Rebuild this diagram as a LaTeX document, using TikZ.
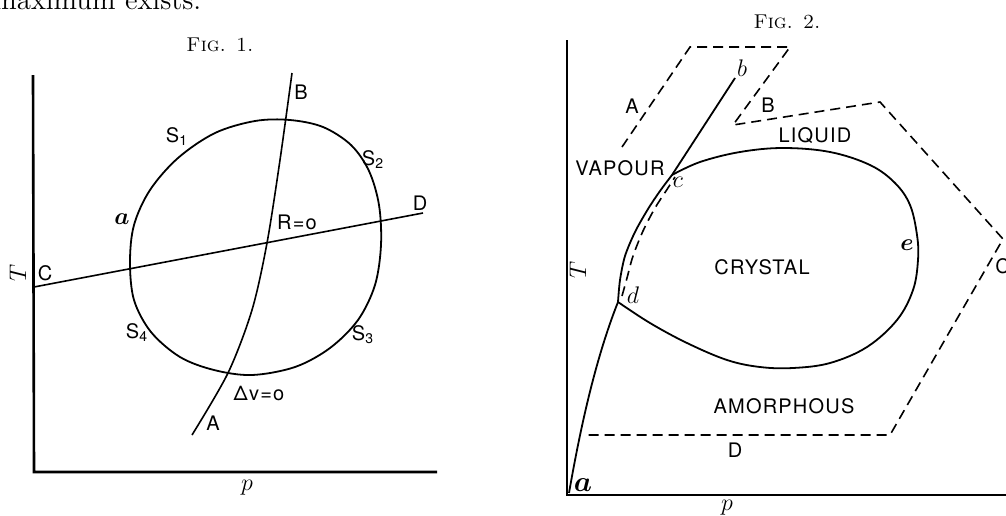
\documentclass[tikz,border=0pt]{standalone}
\usepackage{amsmath}
\usepackage{fontspec}
\setsansfont{TeX Gyre Heros}[LetterSpace=6]
\usetikzlibrary{positioning}

\begin{document}
\begin{tikzpicture}[
        x=0.5pt, y=-0.5pt,
        axis/.style={line width=1.3pt},
        curve/.style={line width=0.9pt},
        thinline/.style={line width=0.8pt},
        dashline/.style={line width=0.8pt, dash pattern=on 5pt off 3pt},
        lbl/.style={font=\sffamily\fontsize{10}{12}\selectfont, inner sep=0pt},
        ital/.style={font=\large, inner sep=0pt},
        title/.style={font=\normalsize, inner sep=0pt}
    ]
    \useasboundingbox (0,0) rectangle (1006,515);

    \node[anchor=base west, font=\Large, inner sep=0pt] (maxtext) at (-7,9) {maximum exists.};

    % Fig. 1
    \node[title] (fig1) at (220,45) {\textsc{Fig. 1.}};
    \coordinate (o1) at (34,472);
    \draw[axis] (33,75) -- (o1) -- (437,472);
    \coordinate (C1) at (34,287);
    \coordinate (D1) at (423,213);
    \coordinate (A1) at (192,435);
    \coordinate (B1) at (292,73);
    \draw[curve] plot[smooth cycle, tension=0.55] coordinates {
        (130,262) (134,225) (150,190) (178,158) (215,133) (255,121) (290,120)
        (323,127) (351,145) (369,171) (379,205) (381,245) (375,285) (358,320)
        (330,348) (295,367) (252,375) (214,370) (180,357) (151,332) (134,300)};
    \draw[thinline] (C1) -- (D1);
    \draw[thinline] plot[smooth] coordinates {(A1) (228,373) (252,310) (267,243) (280,160) (B1)};

    \node[ital, rotate=90] (T1) at (18,273) {$T$};
    \node[lbl] (labC1) at (45,273) {C};
    \node[lbl] (labB1) at (301,92) {B};
    \node[lbl] (labD1) at (420,203) {D};
    \node[lbl] (labA1) at (213,423) {A};
    \node[lbl] (S1) at (177,137) {S\textsubscript{1}};
    \node[lbl] (S2) at (373,160) {S\textsubscript{2}};
    \node[lbl] (S3) at (363,335) {S\textsubscript{3}};
    \node[lbl] (S4) at (137,333) {S\textsubscript{4}};
    \node[ital] (a1) at (122,219) {$\boldsymbol{a}$};
    \node[lbl] (R0) at (297,222) {R=o};
    \node[lbl] (dv0) at (259,393) {Δv=o};
    \node[ital] (p1) at (247,488) {$p$};

    % Fig. 2
    \node[title] (fig2) at (787,22) {\textsc{Fig. 2.}};
    \coordinate (o2) at (567,495);
    \draw[axis] (567,40) -- (o2) -- (1010,495);
    \coordinate (a2) at (569,493);
    \coordinate (d2) at (618,302);
    \coordinate (c2) at (672,175);
    \coordinate (b2) at (735,78);
    \draw[curve] (a2) .. controls (580,430) and (595,360) .. (d2);
    \draw[curve] plot[smooth] coordinates {(d2) (620,280) (625,256) (635,232) (648,209) (660,191) (c2)} -- (b2);
    \draw[curve] plot[smooth, tension=0.6] coordinates {
        (c2) (700,162) (740,152) (783,148) (830,152) (870,165) (895,183) (910,205)
        (917,235) (918,260) (913,290) (897,320) (867,347) (830,363) (793,368)
        (760,367) (727,360) (687,343) (650,323) (d2)};
    \draw[dashline] plot[smooth] coordinates {(622,296) (627,278) (633,256) (643,231) (655,208) (666,191) (675,177)};
    \draw[dashline] (622,147) -- (690,47) -- (790,47) -- (733,125) -- (880,102)
        -- (1003,239) -- (890,435) -- (585,435);

    \node[ital, rotate=90] (T2) at (578,270) {$T$};
    \node[lbl] (vapour) at (620,168) {VAPOUR};
    \node[lbl] (liquid) at (815,136) {LIQUID};
    \node[lbl] (crystal) at (762,267) {CRYSTAL};
    \node[lbl] (amorph) at (784,406) {AMORPHOUS};
    \node[lbl] (labA2) at (632,106) {A};
    \node[lbl] (labB2) at (768,105) {B};
    \node[lbl, anchor=west] (labC2) at (995,266) {C};
    \node[lbl] (labD2) at (735,450) {D};
    \node[ital] (b2lab) at (742,68) {$b$};
    \node[ital] (c2lab) at (678,182) {$c$};
    \node[ital] (d2lab) at (633,295) {$d$};
    \node[ital] (e2lab) at (907,245) {$\boldsymbol{e}$};
    \node[font=\Large, inner sep=0pt] (a2lab) at (583,485) {$\boldsymbol{a}$};
    \node[ital] (p2) at (727,508) {$p$};
\end{tikzpicture}
\end{document}
